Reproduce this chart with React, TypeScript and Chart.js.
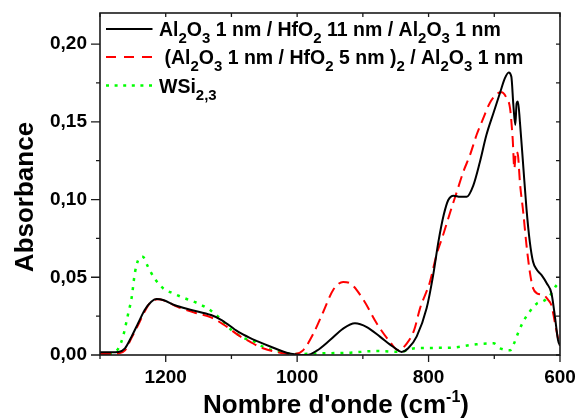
import React, { useEffect, useRef } from 'react';
import { Chart, registerables } from 'chart.js';

Chart.register(...registerables);

const FONT = "'Liberation Sans', Arial, Helvetica, sans-serif";

// ---------- data ----------
const seriesLabels = [
  'Al_2O_3 1 nm / HfO_2 11 nm / Al_2O_3 1 nm',
  ' (Al_2O_3 1 nm / HfO_2 5 nm )_2 / Al_2O_3 1 nm',
  'WSi_{2,3}',
];
const xTitle = "Nombre d'onde (cm^{-1})";
const yTitle = 'Absorbance';

const xTickLabels = [1200, 1000, 800, 600];
const xTickAll = [1300, 1200, 1100, 1000, 900, 800, 700, 600];
const yTickLabels = [0, 0.05, 0.1, 0.15, 0.2];
const yTickAll = [0, 0.025, 0.05, 0.075, 0.1, 0.125, 0.15, 0.175, 0.2];

const wnBlack = [1300, 1285, 1272, 1262, 1252, 1242, 1232, 1222, 1214, 1204, 1186, 1161, 1131, 1115, 1090, 1072, 1060, 1041, 1016, 1001, 985, 970, 950, 930, 912, 894, 874, 854, 841, 831, 818, 803, 793, 785, 777, 770, 762, 752, 742, 732, 722, 712, 701, 691, 684, 678, 674, 671, 668, 666, 664, 661, 656, 651, 646, 641, 635, 628, 620, 613, 608, 603, 600];
const absBlack = [0.0017, 0.0018, 0.002, 0.0043, 0.0118, 0.0204, 0.029, 0.0343, 0.036, 0.0354, 0.032, 0.029, 0.0257, 0.0225, 0.015, 0.011, 0.0088, 0.0055, 0.0015, 0.0004, 0.0, 0.0028, 0.0096, 0.017, 0.0204, 0.018, 0.0118, 0.0053, 0.002, 0.0043, 0.012, 0.03, 0.0514, 0.0729, 0.09, 0.0997, 0.1025, 0.1018, 0.1018, 0.109, 0.124, 0.1415, 0.156, 0.169, 0.178, 0.1818, 0.179, 0.161, 0.148, 0.162, 0.163, 0.15, 0.122, 0.094, 0.073, 0.06, 0.0547, 0.0514, 0.046, 0.0397, 0.0257, 0.0096, 0.006];

const wnRed = [1300, 1272, 1262, 1252, 1242, 1232, 1222, 1212, 1202, 1182, 1156, 1131, 1111, 1086, 1072, 1060, 1052, 1026, 1006, 991, 975, 960, 945, 930, 919, 899, 879, 859, 846, 833, 822, 813, 798, 788, 778, 767, 757, 747, 737, 727, 717, 707, 696, 689, 681, 676, 672, 669.5, 667, 664, 661, 656, 651, 646, 641, 635, 625, 618, 613, 608, 603, 600];
const absRed = [0.0006, 0.001, 0.003, 0.011, 0.0193, 0.028, 0.0343, 0.0358, 0.035, 0.031, 0.0272, 0.0242, 0.0193, 0.0118, 0.0086, 0.0058, 0.0043, 0.0015, 0.0006, 0.003, 0.014, 0.028, 0.042, 0.047, 0.046, 0.0354, 0.0204, 0.0086, 0.003, 0.0075, 0.016, 0.03, 0.047, 0.0643, 0.077, 0.092, 0.105, 0.118, 0.1286, 0.1415, 0.152, 0.162, 0.168, 0.169, 0.165, 0.1586, 0.139, 0.12, 0.131, 0.1286, 0.111, 0.092, 0.0707, 0.0536, 0.043, 0.0397, 0.0386, 0.0354, 0.032, 0.0214, 0.0107, 0.006];

const wnGreen = [1300, 1283, 1272, 1265, 1257, 1252, 1247, 1242, 1235, 1227, 1217, 1204, 1189, 1171, 1151, 1131, 1115, 1100, 1080, 1065, 1052, 1026, 1001, 970, 919, 879, 843, 821, 767, 727, 701, 691, 676, 671, 663, 656, 646, 635, 625, 615, 605, 600];
const absGreen = [0.001, 0.0006, 0.0043, 0.0118, 0.0268, 0.0365, 0.0525, 0.061, 0.0632, 0.0568, 0.0493, 0.0429, 0.0397, 0.0365, 0.0332, 0.0285, 0.0225, 0.0161, 0.0107, 0.0086, 0.0053, 0.002, 0.0006, 0.001, 0.0015, 0.0026, 0.002, 0.0043, 0.0047, 0.0069, 0.0075, 0.0043, 0.003, 0.0064, 0.015, 0.0214, 0.028, 0.0332, 0.0347, 0.0386, 0.045, 0.047];

const seriesColors = ['#000000', '#ff0000', '#00ff00'];
const seriesDash: number[][] = [[], [11, 6], [3, 6]];
const seriesWidth = [2, 2, 2.5];

// ---------- rich text helpers ----------
type Seg = { t: string; k: number }; // k: 0 normal, 1 sub, -1 sup
function parseRich(s: string): Seg[] {
  const segs: Seg[] = [];
  let buf = '';
  let i = 0;
  while (i < s.length) {
    const c = s[i];
    if ((c === '_' || c === '^') && i + 1 < s.length) {
      if (buf) { segs.push({ t: buf, k: 0 }); buf = ''; }
      let t: string;
      if (s[i + 1] === '{') {
        const j = s.indexOf('}', i + 2);
        t = s.slice(i + 2, j);
        i = j + 1;
      } else {
        t = s[i + 1];
        i += 2;
      }
      segs.push({ t, k: c === '_' ? 1 : -1 });
    } else {
      buf += c;
      i++;
    }
  }
  if (buf) segs.push({ t: buf, k: 0 });
  return segs;
}

function drawRich(
  ctx: CanvasRenderingContext2D, s: string, x: number, y: number,
  size: number, small: number, subDy: number, supDy: number, align: 'left' | 'center'
) {
  const segs = parseRich(s);
  const fontFor = (k: number) => `bold ${k === 0 ? size : small}px ${FONT}`;
  let total = 0;
  for (const sg of segs) { ctx.font = fontFor(sg.k); total += ctx.measureText(sg.t).width; }
  let cx = align === 'center' ? x - total / 2 : x;
  ctx.textAlign = 'left';
  ctx.textBaseline = 'alphabetic';
  for (const sg of segs) {
    ctx.font = fontFor(sg.k);
    const dy = sg.k === 1 ? subDy : sg.k === -1 ? -supDy : 0;
    ctx.fillText(sg.t, cx, y + dy);
    cx += ctx.measureText(sg.t).width;
  }
}

const decorPlugin = {
  id: 'decor',
  afterDraw(chart: any) {
    const ctx: CanvasRenderingContext2D = chart.ctx;
    const { left, right, top, bottom } = chart.chartArea;
    const xs = chart.scales.x;
    const ys = chart.scales.y;
    ctx.save();
    // ticks
    ctx.strokeStyle = '#1a1a1a';
    ctx.lineWidth = 1.3;
    ctx.beginPath();
    for (const v of xTickAll) {
      const px = xs.getPixelForValue(v);
      const major = xTickLabels.includes(v);
      ctx.moveTo(px, bottom);
      ctx.lineTo(px, bottom + (major ? 7 : 4));
      ctx.moveTo(px, top);
      ctx.lineTo(px, top + 4);
    }
    for (const v of yTickAll) {
      const py = ys.getPixelForValue(v);
      const major = yTickLabels.some((t) => Math.abs(t - v) < 1e-9);
      ctx.moveTo(left, py);
      ctx.lineTo(left - (major ? 9 : 4), py);
      ctx.moveTo(right, py);
      ctx.lineTo(right - 4, py);
    }
    ctx.stroke();
    // frame
    ctx.lineWidth = 1.6;
    ctx.strokeRect(left, top, right - left, bottom - top);

    // legend
    const rowBase = [36, 64, 92.5];
    const lx0 = 106;
    const lx1 = 152.5;
    for (let i = 0; i < seriesLabels.length; i++) {
      const ly = rowBase[i] - 7;
      ctx.beginPath();
      ctx.strokeStyle = seriesColors[i];
      ctx.lineWidth = seriesWidth[i];
      ctx.setLineDash(i === 1 ? [10, 8] : i === 2 ? [3, 5.6] : []);
      ctx.moveTo(lx0, ly);
      ctx.lineTo(lx1, ly);
      ctx.stroke();
      ctx.setLineDash([]);
      ctx.fillStyle = '#000';
      drawRich(ctx, seriesLabels[i], 159, rowBase[i], 19.5, 15, 7, 0, 'left');
    }

    // axis titles
    ctx.fillStyle = '#000';
    drawRich(ctx, xTitle, 336, 413, 26, 16, 0, 11, 'center');
    ctx.save();
    ctx.translate(33, 197);
    ctx.rotate(-Math.PI / 2);
    drawRich(ctx, yTitle, 0, 0, 26, 16, 0, 0, 'center');
    ctx.restore();
    ctx.restore();
  },
};

const zeroPad = (s: any) => {
  s.paddingLeft = 0;
  s.paddingRight = 0;
  s.paddingTop = 0;
  s.paddingBottom = 0;
};

export default function App() {
  const ref = useRef<HTMLCanvasElement | null>(null);
  useEffect(() => {
    if (!ref.current) return;
    const mk = (w: number[], a: number[]) => w.map((x, i) => ({ x, y: a[i] }));
    const datas = [mk(wnBlack, absBlack), mk(wnRed, absRed), mk(wnGreen, absGreen)];
    const chart = new Chart(ref.current, {
      type: 'line',
      data: {
        datasets: datas.map((d, i) => ({
          label: seriesLabels[i],
          data: d,
          borderColor: seriesColors[i],
          borderWidth: seriesWidth[i],
          borderDash: seriesDash[i],
          pointRadius: 0,
          fill: false,
          cubicInterpolationMode: 'monotone' as const,
        })),
      },
      options: {
        animation: false,
        responsive: true,
        maintainAspectRatio: false,
        devicePixelRatio: 1,
        layout: { padding: { top: 13, right: 15, left: 0, bottom: 0 } },
        plugins: { legend: { display: false }, tooltip: { enabled: false }, title: { display: false } },
        scales: {
          x: {
            type: 'linear',
            reverse: true,
            min: 600,
            max: 1300,
            grid: { display: false, drawTicks: false },
            border: { display: false },
            afterBuildTicks: (s: any) => { s.ticks = xTickLabels.map((v) => ({ value: v })); },
            afterFit: (s: any) => { s.height = 64; zeroPad(s); },
            ticks: {
              autoSkip: false,
              maxRotation: 0,
              padding: 11,
              color: '#000',
              font: { family: FONT, size: 19, weight: 'bold' },
              callback: (v: any) => String(v),
            },
          },
          y: {
            type: 'linear',
            min: 0,
            max: 0.22,
            grid: { display: false, drawTicks: false },
            border: { display: false },
            afterBuildTicks: (s: any) => { s.ticks = yTickLabels.map((v) => ({ value: v })); },
            afterFit: (s: any) => { s.width = 100; zeroPad(s); },
            ticks: {
              padding: 13,
              color: '#000',
              font: { family: FONT, size: 19, weight: 'bold' },
              callback: (v: any) => Number(v).toFixed(2).replace('.', ','),
            },
          },
        },
      },
      plugins: [decorPlugin],
    });
    return () => chart.destroy();
  }, []);
  return (
    <div style={{ position: 'fixed', left: 0, top: 0, width: 575, height: 419, background: '#fff' }}>
      <canvas ref={ref} />
    </div>
  );
}
